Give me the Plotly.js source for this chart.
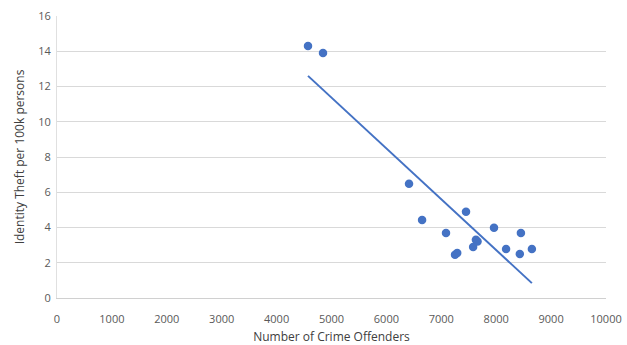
<!DOCTYPE html>
<html>
<head>
<meta charset="utf-8">
<script src="https://cdn.plot.ly/plotly-3.0.1.min.js"></script>
<style>
  html, body { margin: 0; padding: 0; background: #fff; }
  #chart { width: 627px; height: 345px; }
</style>
</head>
<body>
<div id="chart"></div>
<script>
// Offenders vs. identity theft rate, one point per area
const offenders = [4572, 4845, 6412, 6650, 7086, 7450, 7250, 7290, 7580, 7630, 7660, 7960, 8180, 8450, 8430, 8650];
const theftRate = [14.3, 13.9, 6.48, 4.43, 3.69, 4.89, 2.45, 2.55, 2.9, 3.3, 3.2, 3.98, 2.78, 3.69, 2.5, 2.78];

const xTicks = [0, 1000, 2000, 3000, 4000, 5000, 6000, 7000, 8000, 9000, 10000];
const yTicks = [0, 2, 4, 6, 8, 10, 12, 14, 16];

// Least-squares linear trendline over the data's x range
function linearFit(xs, ys) {
  const n = xs.length;
  const mx = xs.reduce((a, b) => a + b, 0) / n;
  const my = ys.reduce((a, b) => a + b, 0) / n;
  let sxy = 0, sxx = 0;
  for (let i = 0; i < n; i++) {
    sxy += (xs[i] - mx) * (ys[i] - my);
    sxx += (xs[i] - mx) * (xs[i] - mx);
  }
  const slope = sxy / sxx;
  return { slope, intercept: my - slope * mx };
}
const fit = linearFit(offenders, theftRate);
const xMin = Math.min(...offenders), xMax = Math.max(...offenders);
const trendX = [xMin, xMax];
const trendY = trendX.map(x => fit.intercept + fit.slope * x);

const blue = '#4472C4';

const traces = [
  {
    x: trendX, y: trendY, type: 'scatter', mode: 'lines',
    line: { color: blue, width: 2 }, hoverinfo: 'skip'
  },
  {
    x: offenders, y: theftRate, type: 'scatter', mode: 'markers',
    marker: { color: blue, size: 8.5 }
  }
];

const tickFont = { family: '"Open Sans", Lato, sans-serif', size: 11, color: '#595959' };
const titleFont = { family: '"Open Sans", Lato, sans-serif', size: 12, color: '#404040' };

const layout = {
  width: 627, height: 345,
  margin: { l: 57, r: 21, t: 16, b: 47 },
  paper_bgcolor: '#fff', plot_bgcolor: '#fff',
  showlegend: false,
  xaxis: {
    range: [0, 10000], tickvals: xTicks, ticktext: xTicks.map(String),
    showgrid: false, zeroline: false,
    showline: true, linecolor: '#d0d0d0', linewidth: 1,
    ticks: 'outside', ticklen: 11, tickcolor: 'rgba(0,0,0,0)', tickfont: tickFont,
    title: { text: 'Number of Crime Offenders', font: titleFont, standoff: 7 }
  },
  yaxis: {
    range: [0, 16], tickvals: yTicks, ticktext: yTicks.map(String),
    showgrid: true, gridcolor: '#d9d9d9', gridwidth: 1,
    zeroline: false, showline: true, linecolor: '#e0e0e0', linewidth: 1,
    ticks: 'outside', ticklen: 3, tickcolor: 'rgba(0,0,0,0)', tickfont: tickFont,
    title: { text: 'Identity Theft per 100k persons', font: titleFont, standoff: 11 }
  }
};

Plotly.newPlot('chart', traces, layout, { staticPlot: true, displayModeBar: false });
</script>
</body>
</html>
